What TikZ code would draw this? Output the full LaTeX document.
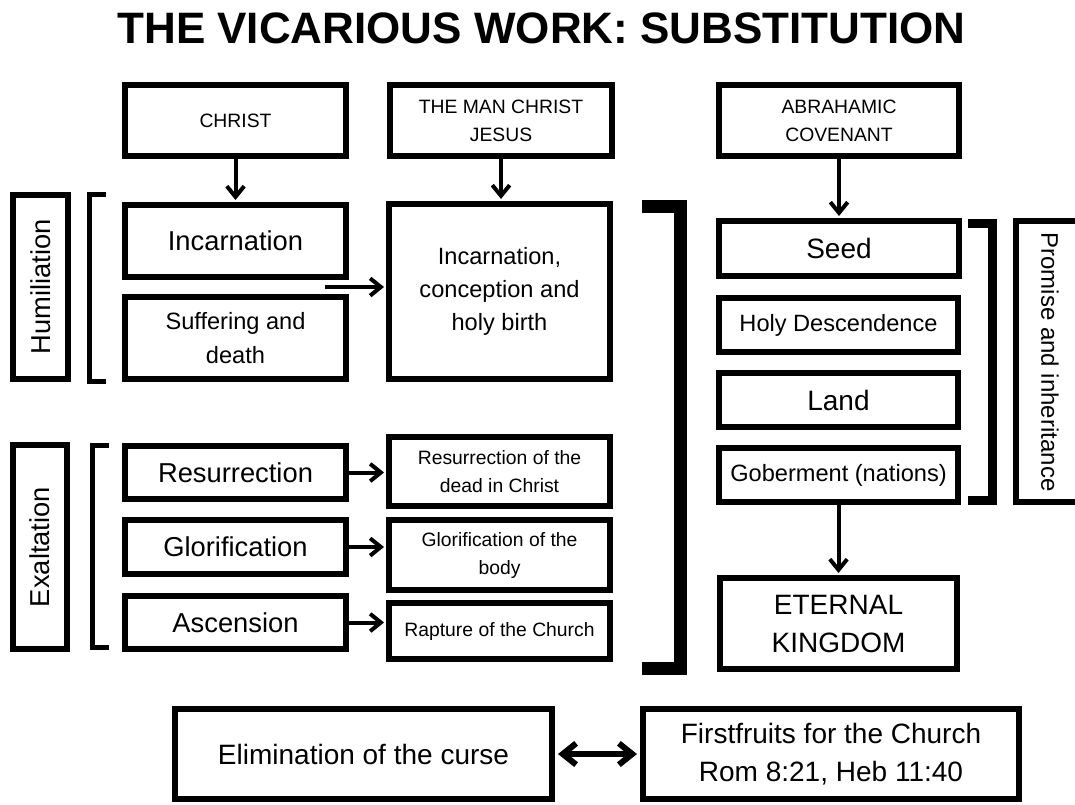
\documentclass[tikz,border=0pt]{standalone}
\usepackage{fontspec}
\setmainfont{Liberation Sans}
\usetikzlibrary{arrows.meta}
\def\u{0.75pt}
\newcommand\bx[7]{%
  \node[box,#6,minimum width={(#3-#2-6)*\u},minimum height={(#5-#4-6)*\u}] (#1) at ({(#2+#3)/2},{(#4+#5)/2}) {#7};}
\tikzset{
  box/.style={draw,line width=6*\u,inner sep=0pt,align=center,miter limit=10},
  fA/.style={font=\fontsize{14.5}{21}\selectfont},
  fB/.style={font=\fontsize{17.7}{25}\selectfont},
  fC/.style={font=\fontsize{20.5}{28}\selectfont},
  fD/.style={font=\fontsize{21}{28.5}\selectfont},
  arr/.style={line width=4*\u,-{Straight Barb[length=8pt,width=13pt]},shorten >=2*\u},
  darr/.style={line width=6*\u,{Straight Barb[length=10pt,width=16pt]}-{Straight Barb[length=10pt,width=16pt]},shorten >=3*\u,shorten <=3*\u},
  brk/.style={line width=#1*\u,miter limit=10},
}
\begin{document}
\begin{tikzpicture}[x=0.75pt,y=-0.75pt]
\useasboundingbox (0,0) rectangle (1075,804);
\clip (0,0) rectangle (1075,804);
\node[font=\bfseries\fontsize{33}{36}\selectfont] (title) at (541.5,28) {THE VICARIOUS WORK: SUBSTITUTION};
% top row
\bx{christ}{122}{349}{82}{159}{fA}{CHRIST}
\bx{man}{387}{615}{82}{159}{fA}{THE MAN CHRIST\\JESUS}
\bx{abr}{716}{962}{82}{159}{fA}{ABRAHAMIC\\COVENANT}
% humiliation
\bx{hum}{10}{71}{192}{382}{fC}{}
\node[fC,rotate=90] (humt) at (hum.center) {Humiliation};
\draw[brk=5] (106,194.5) -- (89.5,194.5) -- (89.5,381.5) -- (106,381.5);
\bx{inc}{122}{349}{202}{280}{fC}{Incarnation}
\bx{suf}{122}{349}{294}{382}{fB}{Suffering and\\death}
\bx{big}{386}{613}{201}{382}{fB}{Incarnation,\\conception and\\holy birth}
% exaltation
\bx{exa}{10}{70}{442}{652}{fC}{}
\node[fC,rotate=90] (exat) at (exa.center) {Exaltation};
\draw[brk=5] (109,445.5) -- (92.5,445.5) -- (92.5,647.5) -- (109,647.5);
\bx{res}{122}{349}{443}{502}{fC}{Resurrection}
\bx{glo}{122}{349}{517}{577}{fC}{Glorification}
\bx{asc}{122}{349}{593}{652}{fC}{Ascension}
\bx{resd}{386}{613}{434}{509}{fA}{Resurrection of the\\dead in Christ}
\bx{glob}{386}{613}{517}{593}{fA}{Glorification of the\\body}
\bx{rap}{386}{613}{600}{662}{fA}{Rapture of the Church}
% big bracket
\draw[brk=13] (642,206.5) -- (680.5,206.5) -- (680.5,668.5) -- (642,668.5);
% right column
\bx{seed}{716}{962}{218}{279}{fD}{Seed}
\bx{holy}{716}{961}{295}{355}{fB}{Holy Descendence}
\bx{land}{716}{961}{370}{430}{fD}{Land}
\bx{gob}{716}{961}{445}{505}{fB}{Goberment (nations)}
\draw[brk=9] (968,223.5) -- (992.5,223.5) -- (992.5,500.5) -- (968,500.5);
\bx{prom}{1013}{1095}{218}{505}{fB}{}
\node[font=\fontsize{18}{22}\selectfont,rotate=-90] (promt) at (1050,362) {Promise and inheritance};
\bx{eter}{717}{960}{575}{672}{fD}{ETERNAL\\KINGDOM}
% bottom
\bx{elim}{172}{555}{706}{802}{fD}{Elimination of the curse}
\bx{first}{640}{1022}{706}{802}{fD}{Firstfruits for the Church\\Rom 8:21, Heb 11:40}
% arrows
\draw[arr] (christ.south) -- (christ.south |- inc.north);
\draw[arr] (man.south) -- (man.south |- big.north);
\draw[arr] (abr.south) -- (abr.south |- seed.north);
\coordinate (a0) at (325,287);
\draw[arr] (a0) -- (a0 -| big.west);
\draw[arr] (res.east) -- (res.east -| resd.west);
\draw[arr] (glo.east) -- (glo.east -| glob.west);
\draw[arr] (asc.east) -- (asc.east -| rap.west);
\draw[arr] (gob.south) -- (gob.south |- eter.north);
\draw[darr] (elim.east) -- (elim.east -| first.west);
\end{tikzpicture}
\end{document}
